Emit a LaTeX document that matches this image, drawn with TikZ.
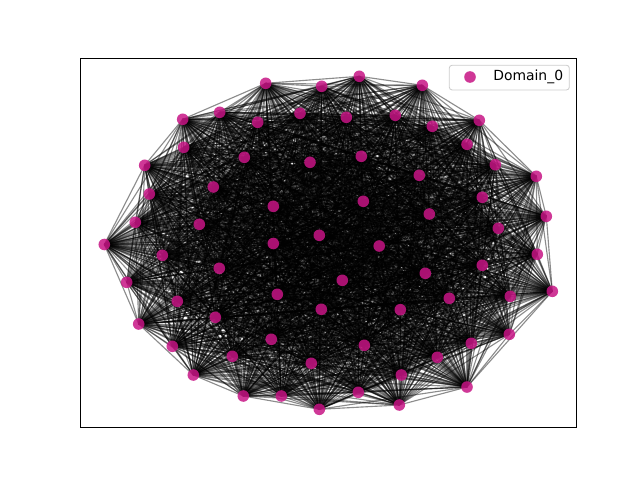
\documentclass[tikz,border=0pt]{standalone}
\usepackage{fontspec}
\setmainfont{DejaVu Sans}
\pgfdeclarelayer{background}
\pgfsetlayers{background,main}
\definecolor{nodecol}{RGB}{199,21,133}
\definecolor{legedge}{RGB}{204,204,204}
\begin{document}
\begin{tikzpicture}[x=0.025cm,y=-0.025cm,
  dot/.style={circle,fill=nodecol,fill opacity=0.85,inner sep=0pt,minimum size=0.29cm},
  edge/.style={black,opacity=0.45,line width=0.8pt}]
\useasboundingbox (0,0) rectangle (640,480);
\foreach \k/\x/\y in {
1/265.7/83.3,2/321.7/86.3,3/359.3/76.3,4/422.3/85.3,5/219.7/112.3,6/182.7/119.3,
7/257.7/122.3,8/300/113.3,9/346.3/117.3,10/395.3/115.3,11/432.3/126.3,12/479.3/120.3,
13/467/144.3,14/183.7/147.3,15/144.7/165.3,16/244.3/157.3,17/310/162.3,18/361.3/156.3,
19/495.3/164.7,20/536.3/176.3,21/419.3/175.3,22/213.3/187,23/149.3/194,24/482.3/197.3,
25/273.3/206.3,26/363.3/201.3,27/429.3/214,28/546.3/216.3,29/135.3/222.3,30/199.3/224.3,
31/498.3/228.3,32/319.3/235.3,33/104.3/244.5,34/273.3/243.5,35/379.2/246,36/162.3/255.3,
37/537.3/254.3,38/482.3/265.3,39/219.3/268.3,40/425.3/273.3,41/126.7/282.3,42/342.3/280.3,
43/552.3/291.3,44/277.3/294.3,45/510.3/296.3,46/449.3/298.3,47/177.3/301.3,48/321.3/309.3,
49/400.3/309.7,50/215.3/317.3,51/138.7/324,52/509.3/334.3,53/271.3/339.3,54/471.3/343.3,
55/364.3/345.3,56/172.3/346.3,57/232.3/356.3,58/437.3/357.3,59/311.3/363.3,60/193.3/375,
61/401.3/375,62/467/387,63/243.3/396,64/281.3/396,65/358.3/392.3,66/319.3/409.3,67/399.3/405}
  \node[dot] (n\k) at (\x,\y) {};
\begin{pgfonlayer}{background}
\foreach \i in {1,...,66}{
  \pgfmathtruncatemacro\s{\i+1}
  \foreach \j in {\s,...,67}{
    \draw[edge] (n\i.center) -- (n\j.center);
  }
}
\end{pgfonlayer}
\draw[line width=0.6pt] (80,58) rectangle (576,427);
\node[draw=legedge,fill=white,fill opacity=0.8,text opacity=1,rounded corners=2pt,line width=0.6pt,
  minimum width=120*0.025cm,minimum height=24.7*0.025cm,inner sep=0pt] (leg) at (509.3,77.6) {};
\node[dot] (legdot) at (470,77) {};
\node[anchor=west,font=\fontsize{9.9}{12}\selectfont,inner sep=0pt] (legtxt) at (493,77) {Domain\_0};
\end{tikzpicture}
\end{document}
